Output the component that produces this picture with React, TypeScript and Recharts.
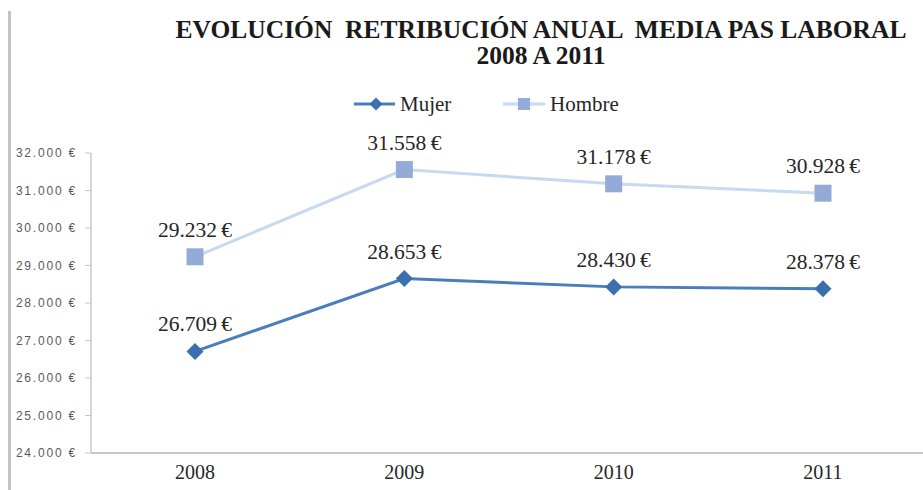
import { LineChart, Line, XAxis, YAxis, LabelList, Text } from 'recharts';

const years = ['2008', '2009', '2010', '2011'];
const mujer = [26709, 28653, 28430, 28378];
const hombre = [29232, 31558, 31178, 30928];
const yTicks = [24000, 25000, 26000, 27000, 28000, 29000, 30000, 31000, 32000];

const data = years.map((year, i) => ({ year, mujer: mujer[i], hombre: hombre[i] }));

const SERIF = '"Liberation Serif", "Times New Roman", serif';
const MUJER_LINE = '#4a7ebb';
const MUJER_DOT = '#3c6fae';
const HOMBRE_LINE = '#c6d9f1';
const HOMBRE_DOT = '#95abd7';

// 32000 -> "32.000 €"
function euro(v: any) {
  const s = String(Math.round(Number(v))).replace(/\B(?=(\d{3})+(?!\d))/g, '.');
  return s + '\u00a0€';
}

// data labels use a thin space before the euro sign
function euroLabel(v: any) {
  const s = String(Math.round(Number(v))).replace(/\B(?=(\d{3})+(?!\d))/g, '.');
  return s + '\u2009€';
}

function Diamond({ cx, cy, size }: any) {
  if (cx == null || cy == null) return null;
  const r = size || 8.5;
  return (
    <path
      d={`M${cx},${cy - r} L${cx + r},${cy} L${cx},${cy + r} L${cx - r},${cy} Z`}
      fill={MUJER_DOT}
    />
  );
}

function Square({ cx, cy, size }: any) {
  if (cx == null || cy == null) return null;
  const r = size || 8.5;
  return <rect x={cx - r} y={cy - r} width={r * 2} height={r * 2} fill={HOMBRE_DOT} />;
}

function LegendBox() {
  return (
    <svg width={320} height={30} style={{ position: 'absolute', left: 350, top: 89 }}>
      <line x1={4} y1={15} x2={45} y2={15} stroke={MUJER_LINE} strokeWidth={3} />
      <Diamond cx={26} cy={15} size={6.5} />
      <Text x={50} y={22} fontFamily={SERIF} fontSize={21} fill='#262626'>
        Mujer
      </Text>
      <line x1={153} y1={15} x2={195} y2={15} stroke={HOMBRE_LINE} strokeWidth={3} />
      <Square cx={174} cy={15} size={6} />
      <Text x={200} y={22} fontFamily={SERIF} fontSize={21} fill='#262626'>
        Hombre
      </Text>
    </svg>
  );
}

function App() {
  return (
    <div
      style={{
        position: 'absolute',
        left: 0,
        top: 0,
        width: 923,
        height: 490,
        overflow: 'hidden',
        background: '#fff',
      }}
    >
      <div
        style={{
          position: 'absolute',
          left: 8,
          top: 11,
          width: 3,
          height: 479,
          background: '#c4c4c4',
        }}
      />
      <div
        style={{
          position: 'absolute',
          left: 91,
          width: 900,
          top: 17,
          textAlign: 'center',
          fontFamily: SERIF,
          fontWeight: 'bold',
          fontSize: 25.5,
          lineHeight: '26px',
          color: '#1a1a1a',
          whiteSpace: 'pre',
        }}
      >
        {'EVOLUCIÓN  RETRIBUCIÓN ANUAL  MEDIA PAS LABORAL\n2008 A 2011'}
      </div>
      <LegendBox />
      <div style={{ position: 'absolute', left: 0, top: 0 }}>
        <LineChart
          width={940}
          height={490}
          data={data}
          margin={{ top: 153, right: 13, bottom: 7, left: 11 }}
        >
          <XAxis
            dataKey='year'
            height={30}
            padding={{ left: 104, right: 104 }}
            axisLine={{ stroke: '#c8c8c8', strokeWidth: 2 }}
            tickLine={false}
            tickMargin={6}
            tick={{ fontFamily: SERIF, fontSize: 20, fill: '#262626' }}
          />
          <YAxis
            width={80}
            domain={[24000, 32000]}
            ticks={yTicks}
            interval={0}
            tickFormatter={euro}
            axisLine={{ stroke: '#c8c8c8', strokeWidth: 1.5 }}
            tickLine={{ stroke: '#c8c8c8' }}
            tickSize={6}
            tickMargin={8}
            tick={{
              fontFamily: '"Liberation Sans", Arial, sans-serif',
              fontSize: 12,
              letterSpacing: 1.8,
              fill: '#595959',
            }}
          />
          <Line
            dataKey='hombre'
            name='Hombre'
            stroke={HOMBRE_LINE}
            strokeWidth={3}
            dot={<Square />}
            activeDot={false}
            isAnimationActive={false}
          >
            <LabelList
              dataKey='hombre'
              position='top'
              offset={20}
              formatter={euroLabel}
              fontFamily={SERIF}
              fontSize={21.5}
              fill='#262626'
            />
          </Line>
          <Line
            dataKey='mujer'
            name='Mujer'
            stroke={MUJER_LINE}
            strokeWidth={3}
            dot={<Diamond />}
            activeDot={false}
            isAnimationActive={false}
          >
            <LabelList
              dataKey='mujer'
              position='top'
              offset={20}
              formatter={euroLabel}
              fontFamily={SERIF}
              fontSize={21.5}
              fill='#262626'
            />
          </Line>
        </LineChart>
      </div>
    </div>
  );
}

export default App;
